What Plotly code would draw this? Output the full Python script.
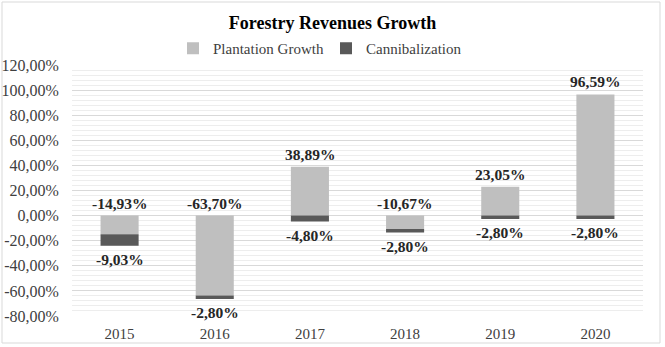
import plotly.graph_objects as go

years = ["2015", "2016", "2017", "2018", "2019", "2020"]
plantation = [-14.93, -63.70, 38.89, -10.67, 23.05, 96.59]
cannibalization = [-9.03, -2.80, -4.80, -2.80, -2.80, -2.80]
y_ticks = [-80, -60, -40, -20, 0, 20, 40, 60, 80, 100, 120]

def fmt(v):
    return f"{v:.2f}".replace(".", ",") + "%"

fig = go.Figure()
fig.add_trace(go.Bar(x=years, y=plantation, name="Plantation Growth",
                     marker=dict(color="#BFBFBF", line=dict(width=0))))
fig.add_trace(go.Bar(x=years, y=cannibalization, name="Cannibalization",
                     marker=dict(color="#595959", line=dict(width=0))))

annotations = []
for i, (p, c) in enumerate(zip(plantation, cannibalization)):
    top = max(p, 0)
    neg = min(p, 0) + min(c, 0)
    annotations.append(dict(x=i, y=top, text="<b>" + fmt(p) + "</b>", showarrow=False, yanchor="bottom",
                            yshift=2, font=dict(family="Liberation Serif", size=15.5, color="#262626")))
    annotations.append(dict(x=i, y=neg, text="<b>" + fmt(c) + "</b>", showarrow=False, yanchor="top",
                            yshift=-3, font=dict(family="Liberation Serif", size=15.5, color="#262626")))

fig.update_layout(
    width=665, height=347,
    barmode="relative", bargap=0.6,
    separators=",.",
    paper_bgcolor="white", plot_bgcolor="white",
    margin=dict(l=72, r=22, t=65, b=31, autoexpand=False),
    title=dict(text="<b>Forestry Revenues Growth</b>", x=0.5, xanchor="center", y=0.935, yanchor="middle",
               font=dict(family="Liberation Serif", size=18, color="#000000")),
    legend=dict(orientation="h", x=(326 - 72) / 571, xanchor="center", y=1.0, yanchor="bottom",
                font=dict(family="Liberation Serif", size=15, color="#404040"),
                itemwidth=30, entrywidth=108, traceorder="normal", bgcolor="rgba(0,0,0,0)"),
    font=dict(family="Liberation Serif", size=15, color="#404040"),
    annotations=annotations,
    xaxis=dict(type="category", range=[-0.5, len(years) - 0.5], showgrid=False, showline=False,
               ticks="outside", ticklen=4, tickcolor="rgba(0,0,0,0)",
               tickfont=dict(size=15, color="#404040")),
    yaxis=dict(range=[-80, 120], tickvals=y_ticks, ticktext=[fmt(v) for v in y_ticks],
               showgrid=True, gridcolor="#D9D9D9", gridwidth=1, zeroline=False,
               ticks="outside", ticklen=9, tickcolor="rgba(0,0,0,0)",
               minor=dict(dtick=4, tick0=0, showgrid=True, gridcolor="#EDEDED", gridwidth=1, ticks=""),
               tickfont=dict(size=16, color="#404040")),
    shapes=[dict(type="rect", xref="paper", yref="paper",
                 x0=-70/571, x1=(660-72)/571, y0=-(343-316)/251, y1=(316-2)/251,
                 line=dict(color="#D9D9D9", width=1), fillcolor="rgba(0,0,0,0)", layer="below")],
)

fig.write_html("out.html")
